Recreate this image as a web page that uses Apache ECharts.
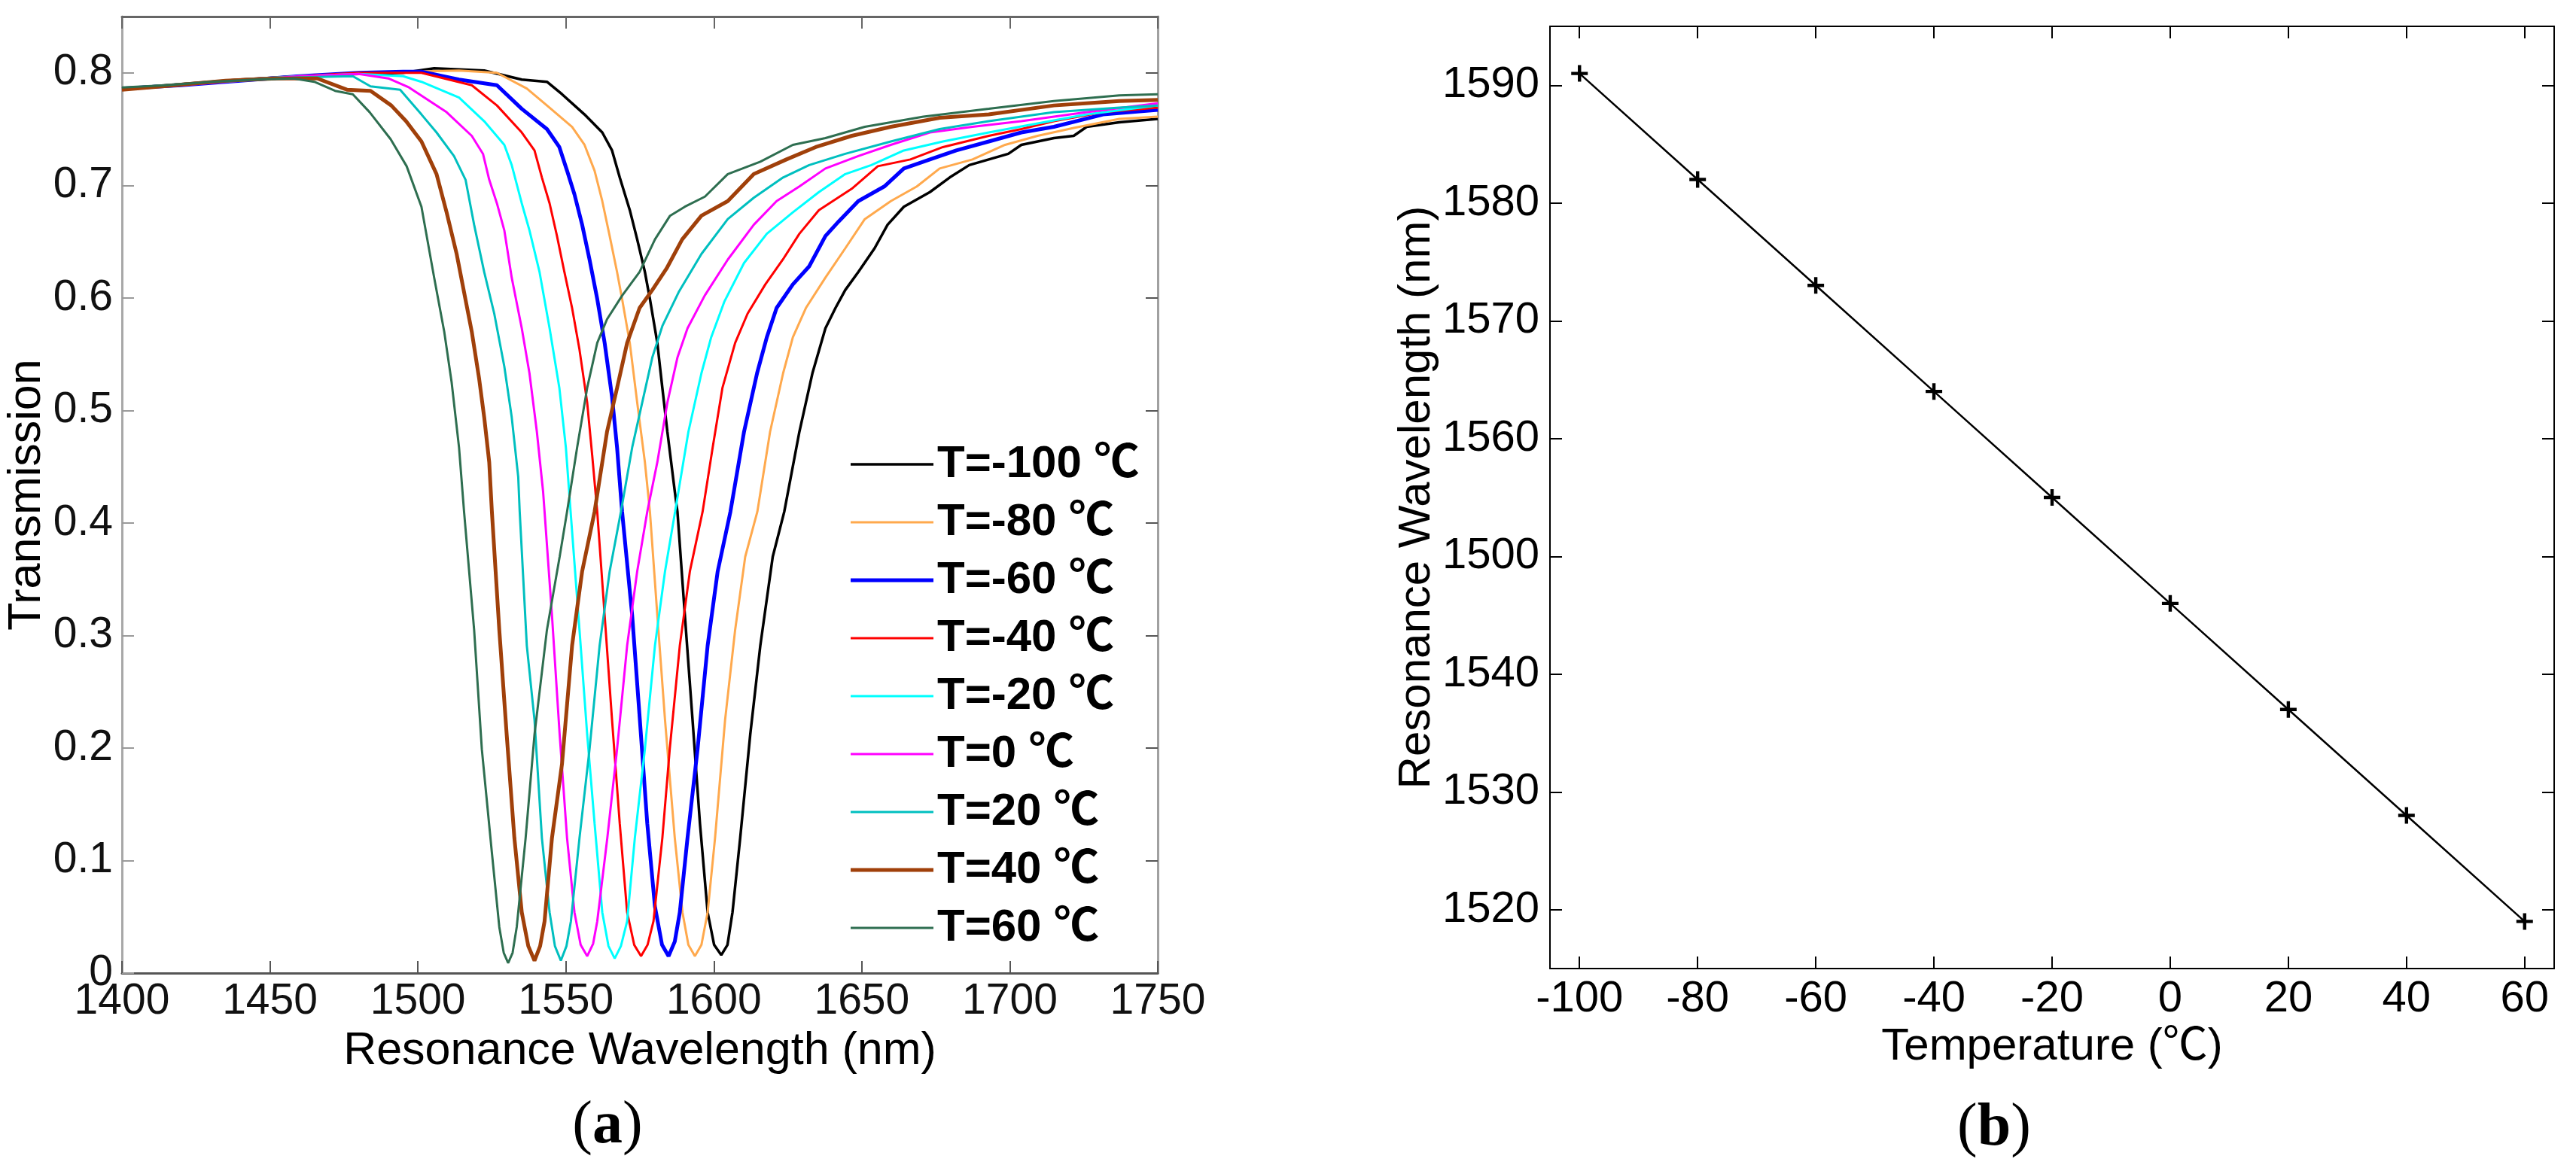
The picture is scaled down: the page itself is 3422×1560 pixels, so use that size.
<!DOCTYPE html>
<html>
<head>
<meta charset="utf-8">
<title>Transmission spectra and resonance wavelength vs temperature</title>
<script src="https://cdn.jsdelivr.net/npm/echarts@6/dist/echarts.min.js"></script>
<style>
  html, body { margin: 0; padding: 0; background: #ffffff; }
  #chart { width: 3422px; height: 1560px; }
</style>
</head>
<body>
<div id="chart"></div>
<script>
// (a) transmission spectra, [wavelength nm, transmission]
const curveM100 = [[1400,0.786],[1420,0.790],[1440,0.794],[1460,0.797],[1480,0.799],[1495,0.800],[1505.5,0.804],[1522.4,0.802],[1535.1,0.794],[1543.6,0.792],[1548.7,0.781],[1556.3,0.763],[1562.3,0.747],[1565.6,0.731],[1568.2,0.707],[1571.6,0.678],[1574.1,0.652],[1576.7,0.623],[1578.4,0.599],[1580.9,0.560],[1582.6,0.520],[1584.3,0.481],[1586.8,0.428],[1587.7,0.410],[1590.2,0.318],[1592.8,0.225],[1595.3,0.133],[1597.9,0.054],[1600.1,0.025],[1602.5,0.016],[1604.6,0.025],[1606.3,0.054],[1608.9,0.120],[1612.3,0.212],[1615.7,0.291],[1619.9,0.370],[1623.8,0.410],[1628.9,0.481],[1633.3,0.533],[1637.7,0.573],[1641.1,0.591],[1644.4,0.607],[1648.8,0.623],[1654.3,0.644],[1658.7,0.665],[1664.2,0.681],[1673.0,0.694],[1679.7,0.707],[1686.3,0.718],[1692.9,0.723],[1699.5,0.728],[1703.9,0.736],[1714.9,0.742],[1721.6,0.744],[1726.0,0.752],[1737.0,0.756],[1750,0.759]];
const curveM80 = [[1400,0.786],[1420,0.790],[1440,0.794],[1460,0.797],[1480,0.800],[1495,0.801],[1513.9,0.802],[1526.7,0.800],[1536.8,0.786],[1543.6,0.771],[1552.1,0.752],[1556.3,0.736],[1559.7,0.713],[1562.3,0.686],[1564.8,0.655],[1567.3,0.623],[1569.0,0.599],[1571.6,0.560],[1574.1,0.507],[1576.7,0.454],[1578.4,0.410],[1580.9,0.318],[1583.5,0.225],[1586.8,0.120],[1589.4,0.054],[1591.4,0.025],[1593.6,0.015],[1595.8,0.025],[1597.9,0.054],[1600.4,0.120],[1603.8,0.225],[1607.2,0.305],[1610.6,0.370],[1614.7,0.410],[1619.0,0.481],[1623.4,0.533],[1626.7,0.565],[1631.1,0.591],[1637.7,0.618],[1644.4,0.644],[1651.0,0.670],[1659.8,0.686],[1668.6,0.699],[1676.3,0.715],[1687.4,0.723],[1698.4,0.736],[1709.4,0.744],[1721.6,0.751],[1737.0,0.759],[1750,0.761]];
const curveM60 = [[1400,0.786],[1420,0.789],[1440,0.793],[1460,0.797],[1480,0.800],[1495,0.801],[1501.2,0.801],[1513.9,0.794],[1526.7,0.789],[1535.1,0.768],[1543.6,0.750],[1547.8,0.734],[1550.4,0.713],[1552.9,0.692],[1555.5,0.665],[1558.0,0.634],[1560.6,0.599],[1563.1,0.560],[1565.6,0.512],[1567.3,0.467],[1569.0,0.410],[1572.4,0.318],[1575.0,0.225],[1577.5,0.133],[1580.1,0.059],[1582.5,0.025],[1584.7,0.015],[1586.8,0.028],[1588.5,0.054],[1591.1,0.120],[1594.5,0.199],[1597.9,0.291],[1601.3,0.357],[1605.6,0.410],[1610.2,0.481],[1614.6,0.533],[1617.9,0.565],[1621.2,0.591],[1626.7,0.612],[1632.2,0.628],[1637.7,0.655],[1642.2,0.668],[1648.8,0.686],[1657.6,0.699],[1664.2,0.715],[1673.0,0.723],[1681.9,0.731],[1692.9,0.739],[1703.9,0.747],[1714.9,0.752],[1731.5,0.763],[1750,0.767]];
const curveM40 = [[1400,0.786],[1420,0.790],[1440,0.794],[1460,0.797],[1480,0.800],[1501.2,0.800],[1518.2,0.789],[1526.7,0.771],[1535.1,0.747],[1539.4,0.731],[1541.9,0.707],[1544.5,0.684],[1547.0,0.655],[1549.5,0.623],[1552.1,0.591],[1554.6,0.554],[1557.2,0.507],[1558.9,0.460],[1560.6,0.410],[1563.1,0.318],[1565.6,0.225],[1568.2,0.133],[1570.7,0.054],[1573.1,0.025],[1575.4,0.015],[1577.6,0.025],[1579.6,0.046],[1582.6,0.120],[1585.1,0.199],[1588.5,0.291],[1591.9,0.357],[1596.2,0.410],[1599.6,0.467],[1602.9,0.520],[1607.2,0.560],[1611.4,0.586],[1617.4,0.612],[1623.3,0.634],[1628.9,0.657],[1635.5,0.678],[1646.6,0.697],[1655.4,0.717],[1666.4,0.723],[1677.4,0.734],[1692.9,0.744],[1703.9,0.750],[1714.9,0.757],[1731.5,0.765],[1750,0.769]];
const curveM20 = [[1400,0.786],[1420,0.790],[1440,0.794],[1460,0.797],[1480,0.799],[1495,0.797],[1501.2,0.792],[1513.9,0.778],[1522.4,0.757],[1529.2,0.736],[1531.7,0.718],[1535.1,0.684],[1537.7,0.660],[1541.1,0.623],[1544.5,0.573],[1547.8,0.520],[1550.0,0.467],[1551.6,0.410],[1554.6,0.305],[1557.2,0.212],[1559.7,0.133],[1562.3,0.054],[1564.4,0.024],[1566.5,0.013],[1568.6,0.024],[1570.7,0.046],[1573.3,0.120],[1576.7,0.199],[1580.1,0.291],[1583.5,0.357],[1586.9,0.410],[1591.4,0.481],[1595.8,0.533],[1599.1,0.565],[1603.6,0.597],[1610.2,0.631],[1617.9,0.657],[1626.7,0.676],[1635.5,0.694],[1644.4,0.710],[1653.2,0.718],[1664.2,0.731],[1677.4,0.739],[1692.9,0.747],[1709.4,0.755],[1726.0,0.763],[1750,0.771]];
const curveP0 = [[1400,0.785],[1420,0.789],[1440,0.793],[1460,0.797],[1480,0.799],[1490,0.795],[1497,0.787],[1509.7,0.765],[1518.2,0.744],[1522.0,0.728],[1524.1,0.705],[1526.7,0.684],[1529.2,0.660],[1531.7,0.618],[1535.1,0.573],[1537.7,0.533],[1540.2,0.481],[1542.3,0.428],[1542.8,0.410],[1545.3,0.318],[1547.9,0.212],[1550.4,0.120],[1552.9,0.054],[1555.0,0.025],[1557.2,0.015],[1559.2,0.026],[1560.6,0.046],[1564.0,0.120],[1567.3,0.199],[1570.7,0.291],[1574.1,0.357],[1577.5,0.410],[1580.9,0.454],[1584.3,0.507],[1587.7,0.547],[1591.1,0.573],[1596.9,0.602],[1604.7,0.634],[1613.5,0.665],[1621.2,0.686],[1628.9,0.699],[1637.7,0.715],[1648.8,0.726],[1659.8,0.736],[1673.0,0.747],[1687.4,0.752],[1703.9,0.757],[1726.0,0.765],[1750,0.773]];
const curveP20 = [[1400,0.786],[1420,0.790],[1440,0.793],[1460,0.796],[1478,0.797],[1484,0.788],[1494,0.785],[1501.2,0.763],[1506.3,0.747],[1512.2,0.726],[1516.1,0.705],[1519.0,0.665],[1522.4,0.623],[1525.8,0.586],[1529.2,0.539],[1531.7,0.494],[1533.9,0.441],[1534.4,0.410],[1536.8,0.291],[1539.4,0.225],[1541.9,0.120],[1544.5,0.054],[1546.3,0.024],[1548.3,0.011],[1550.2,0.024],[1551.7,0.046],[1554.6,0.120],[1558.0,0.199],[1561.4,0.291],[1564.8,0.357],[1568.6,0.410],[1572.4,0.467],[1575.8,0.507],[1579.2,0.547],[1582.6,0.575],[1588.1,0.605],[1595.8,0.639],[1604.7,0.670],[1613.5,0.689],[1623.4,0.707],[1632.2,0.718],[1644.4,0.728],[1659.8,0.739],[1676.3,0.750],[1692.9,0.757],[1714.9,0.765],[1737.0,0.769],[1750,0.771]];
const curveP40 = [[1400,0.785],[1418,0.789],[1435,0.793],[1452,0.795],[1466,0.795],[1476,0.785],[1484,0.784],[1491,0.771],[1496,0.757],[1501.2,0.739],[1506.3,0.710],[1509.7,0.676],[1513.1,0.639],[1515.6,0.605],[1518.2,0.570],[1520.7,0.528],[1522.4,0.494],[1524.1,0.454],[1525.0,0.410],[1527.5,0.305],[1530.0,0.212],[1532.6,0.120],[1535.1,0.054],[1537.3,0.024],[1539.4,0.011],[1541.3,0.024],[1542.8,0.046],[1545.3,0.120],[1548.7,0.186],[1552.1,0.291],[1555.5,0.357],[1559.7,0.410],[1563.9,0.481],[1567.3,0.520],[1570.7,0.560],[1574.9,0.591],[1579.2,0.607],[1584.0,0.626],[1589.3,0.652],[1595.8,0.673],[1604.7,0.686],[1613.5,0.710],[1624.5,0.723],[1634.4,0.734],[1646.6,0.744],[1659.8,0.752],[1676.3,0.760],[1692.9,0.763],[1714.9,0.771],[1737.0,0.775],[1750,0.776]];
const curveP60 = [[1400,0.787],[1415,0.789],[1430,0.792],[1445,0.794],[1458,0.795],[1465,0.792],[1472,0.784],[1478,0.781],[1483.7,0.765],[1490.8,0.741],[1496.2,0.717],[1501.2,0.681],[1505.5,0.618],[1508.9,0.570],[1511.4,0.525],[1513.9,0.467],[1515.6,0.410],[1519.0,0.305],[1521.6,0.199],[1525.0,0.107],[1527.5,0.041],[1529.0,0.018],[1530.5,0.009],[1532.0,0.018],[1533.4,0.041],[1536.4,0.120],[1539.4,0.212],[1543.6,0.305],[1547.9,0.370],[1550.4,0.410],[1553.8,0.467],[1557.2,0.520],[1560.6,0.560],[1563.9,0.581],[1569.0,0.602],[1574.9,0.623],[1580.1,0.652],[1585.2,0.673],[1590.2,0.681],[1597.0,0.690],[1604.7,0.710],[1615.7,0.721],[1626.7,0.736],[1637.7,0.742],[1651.0,0.752],[1670.8,0.761],[1692.9,0.768],[1714.9,0.775],[1737.0,0.780],[1750,0.781]];

const spectraNames = ['T=-100 ℃', 'T=-80 ℃', 'T=-60 ℃', 'T=-40 ℃', 'T=-20 ℃', 'T=0 ℃', 'T=20 ℃', 'T=40 ℃', 'T=60 ℃'];
const spectraData = [curveM100, curveM80, curveM60, curveM40, curveM20, curveP0, curveP20, curveP40, curveP60];
const yTicksA = [0, 0.1, 0.2, 0.3, 0.4, 0.5, 0.6, 0.7, 0.8];

// (b) resonance wavelength vs temperature
const tempB = [-100, -80, -60, -40, -20, 0, 20, 40, 60];
const waveB = [1591, 1582, 1573, 1564, 1555, 1546, 1537, 1528, 1519];
const yTicksB = [1520, 1530, 1540, 1550, 1560, 1570, 1580, 1590];
const yTickLabelsB = ['1520', '1530', '1540', '1500', '1560', '1570', '1580', '1590']; // as printed in the figure

// looks
const spectraColors = ['#000000', '#ffa94d', '#0000ff', '#ff0000', '#00ffff', '#ff00ff', '#00bfbf', '#a0400a', '#2e6e50'];
const spectraWidths = [3.5, 3, 5, 3, 3, 3, 3, 5, 3];
const SANS = "'Liberation Sans', Arial, 'Noto Sans CJK SC', sans-serif";
const SERIF = "'Liberation Serif', 'Times New Roman', serif";

const chart = echarts.init(document.getElementById('chart'), null, { renderer: 'canvas' });

const tickIn = (color, width) => ({ show: true, inside: true, length: 16, lineStyle: { color: color, width: width } });

const spectraSeries = spectraData.map((d, i) => ({
  name: spectraNames[i],
  type: 'line',
  xAxisIndex: 0,
  yAxisIndex: 0,
  data: d,
  symbol: 'none',
  showSymbol: false,
  smooth: false,
  animation: false,
  lineStyle: { color: spectraColors[i], width: spectraWidths[i] },
  itemStyle: { color: spectraColors[i] }
}));

// legend swatch: a plain bar as thick as the series line
const legendItems = spectraNames.map((n, i) => ({
  name: n,
  icon: 'path://M0,0 H110 V' + spectraWidths[i] + ' H0 Z'
}));

const plusPath = 'path://M4,0 H6 V4 H10 V6 H6 V10 H4 V6 H0 V4 H4 Z';

const option = {
  backgroundColor: '#ffffff',
  animation: false,
  grid: [
    { left: 162, top: 22, width: 1376, height: 1271, containLabel: false },
    { left: 2059, top: 35, width: 1334, height: 1252, containLabel: false }
  ],
  legend: {
    orient: 'vertical',
    left: 1125,
    top: 582,
    itemWidth: 110,
    itemHeight: 30,
    itemGap: 17,
    symbolKeepAspect: true,
    selectedMode: false,
    data: legendItems,
    textStyle: { fontFamily: SANS, fontSize: 60, fontWeight: 'bold', color: '#000', lineHeight: 60 }
  },
  xAxis: [
    {
      type: 'value', gridIndex: 0, position: 'bottom', min: 1400, max: 1750, interval: 50,
      name: 'Resonance Wavelength (nm)', nameLocation: 'middle', nameGap: 74,
      nameTextStyle: { fontFamily: SANS, fontSize: 61, color: '#000' },
      axisLine: { show: true, onZero: false, lineStyle: { color: '#555555', width: 3 } },
      axisTick: tickIn('#555555', 2),
      axisLabel: { fontFamily: SANS, fontSize: 57, color: '#111', margin: 10, formatter: v => String(v) },
      splitLine: { show: false }
    },
    {
      type: 'value', gridIndex: 0, position: 'top', min: 1400, max: 1750, interval: 50,
      axisLine: { show: true, onZero: false, lineStyle: { color: '#666666', width: 3 } },
      axisTick: tickIn('#666666', 2),
      axisLabel: { show: false },
      splitLine: { show: false }
    },
    {
      type: 'value', gridIndex: 1, position: 'bottom', min: -105, max: 65,
      name: 'Temperature (℃)', nameLocation: 'middle', nameGap: 52,
      nameTextStyle: { fontFamily: SANS, fontSize: 60, color: '#000' },
      axisLine: { show: true, onZero: false, lineStyle: { color: '#000', width: 2 } },
      axisTick: Object.assign(tickIn('#000', 2), { customValues: tempB }),
      axisLabel: { fontFamily: SANS, fontSize: 58, color: '#000', margin: 12, customValues: tempB },
      splitLine: { show: false }
    },
    {
      type: 'value', gridIndex: 1, position: 'top', min: -105, max: 65,
      axisLine: { show: true, onZero: false, lineStyle: { color: '#000', width: 2 } },
      axisTick: Object.assign(tickIn('#000', 2), { customValues: tempB }),
      axisLabel: { show: false },
      splitLine: { show: false }
    }
  ],
  yAxis: [
    {
      type: 'value', gridIndex: 0, position: 'left', min: 0, max: 0.85,
      name: 'Transmission', nameLocation: 'middle', nameGap: 82, nameRotate: 90,
      nameTextStyle: { fontFamily: SANS, fontSize: 61, color: '#000' },
      axisLine: { show: true, onZero: false, lineStyle: { color: '#a8a8a8', width: 3 } },
      axisTick: Object.assign(tickIn('#9a9a9a', 2), { customValues: yTicksA }),
      axisLabel: { fontFamily: SANS, fontSize: 57, color: '#111', margin: 12, customValues: yTicksA },
      splitLine: { show: false }
    },
    {
      type: 'value', gridIndex: 0, position: 'right', min: 0, max: 0.85,
      axisLine: { show: true, onZero: false, lineStyle: { color: '#a0a0a0', width: 3 } },
      axisTick: Object.assign(tickIn('#555555', 2), { customValues: yTicksA }),
      axisLabel: { show: false },
      splitLine: { show: false }
    },
    {
      type: 'value', gridIndex: 1, position: 'left', min: 1515, max: 1595,
      name: 'Resonance Wavelength (nm)', nameLocation: 'middle', nameGap: 141, nameRotate: 90,
      nameTextStyle: { fontFamily: SANS, fontSize: 60, color: '#000' },
      axisLine: { show: true, onZero: false, lineStyle: { color: '#000', width: 2 } },
      axisTick: Object.assign(tickIn('#000', 2), { customValues: yTicksB }),
      axisLabel: {
        fontFamily: SANS, fontSize: 58, color: '#000', margin: 14, customValues: yTicksB,
        formatter: v => {
          const k = yTicksB.indexOf(Math.round(v));
          return k >= 0 ? yTickLabelsB[k] : '';
        }
      },
      splitLine: { show: false }
    },
    {
      type: 'value', gridIndex: 1, position: 'right', min: 1515, max: 1595,
      axisLine: { show: true, onZero: false, lineStyle: { color: '#000', width: 2 } },
      axisTick: Object.assign(tickIn('#000', 2), { customValues: yTicksB }),
      axisLabel: { show: false },
      splitLine: { show: false }
    }
  ],
  series: spectraSeries.concat([
    {
      name: 'resonance',
      type: 'line',
      xAxisIndex: 2,
      yAxisIndex: 2,
      data: tempB.map((t, i) => [t, waveB[i]]),
      symbol: plusPath,
      symbolSize: 22,
      showSymbol: true,
      animation: false,
      lineStyle: { color: '#000', width: 2.5 },
      itemStyle: { color: '#000' }
    }
  ]),
  graphic: [
    {
      type: 'text', x: 807, y: 1497,
      style: {
        text: '{p|(}{b|a}{p|)}', align: 'center', verticalAlign: 'middle',
        rich: {
          p: { fontFamily: SERIF, fontSize: 80, fill: '#000' },
          b: { fontFamily: SERIF, fontSize: 80, fontWeight: 'bold', fill: '#000' }
        }
      }
    },
    {
      type: 'text', x: 2649, y: 1500,
      style: {
        text: '{p|(}{b|b}{p|)}', align: 'center', verticalAlign: 'middle',
        rich: {
          p: { fontFamily: SERIF, fontSize: 80, fill: '#000' },
          b: { fontFamily: SERIF, fontSize: 80, fontWeight: 'bold', fill: '#000' }
        }
      }
    }
  ]
};

chart.setOption(option);
</script>
</body>
</html>
